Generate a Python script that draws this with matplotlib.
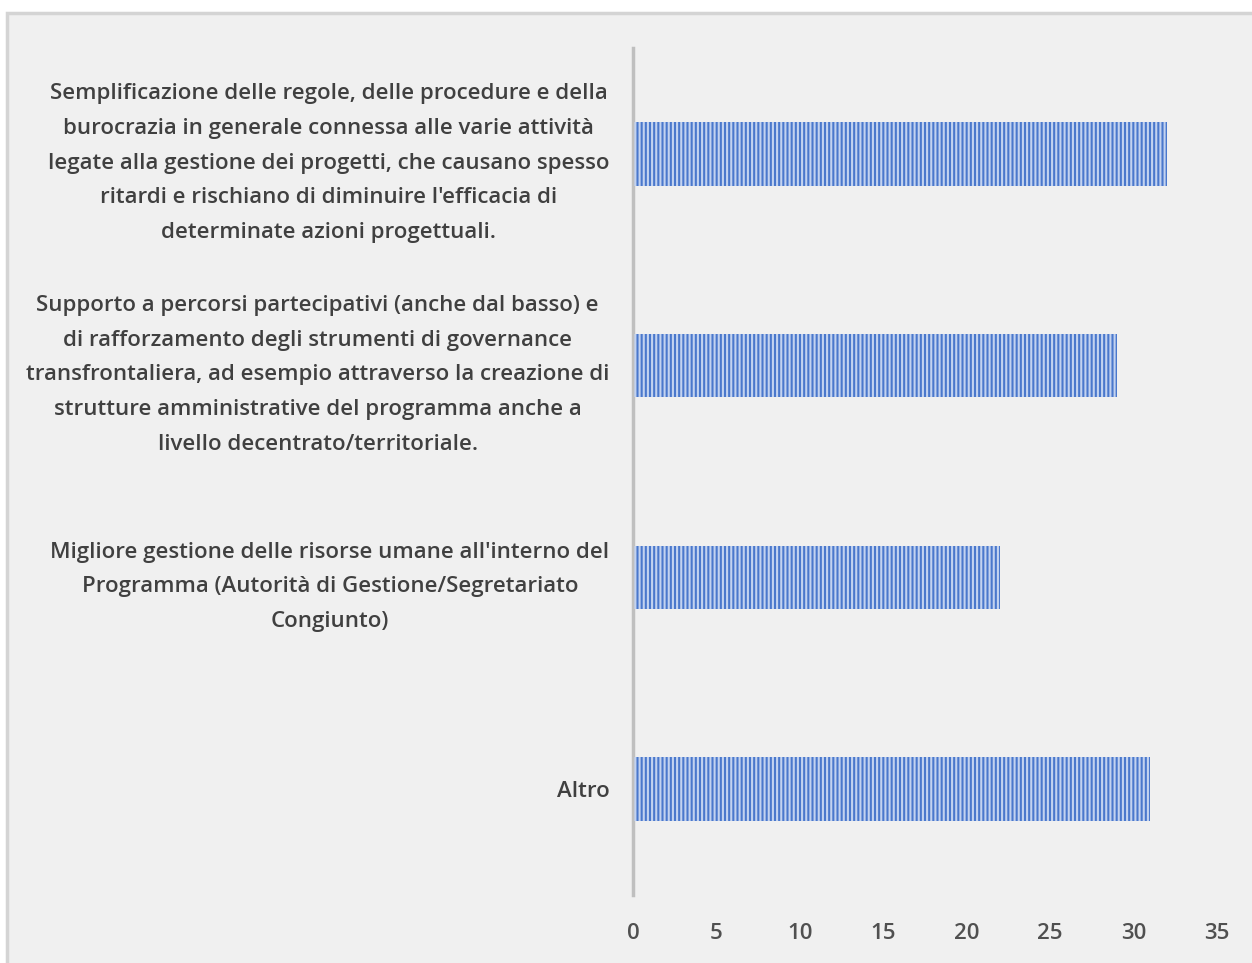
import matplotlib.pyplot as plt
from matplotlib.patches import Rectangle

# dati
categorie = [
    "Semplificazione delle regole, delle procedure e della\n"
    "burocrazia in generale connessa alle varie attività\n"
    "legate alla gestione dei progetti, che causano spesso\n"
    "ritardi e rischiano di diminuire l'efficacia di\n"
    "determinate azioni progettuali.",
    "Supporto a percorsi partecipativi (anche dal basso) e\n"
    "di rafforzamento degli strumenti di governance\n"
    "transfrontaliera, ad esempio attraverso la creazione di\n"
    "strutture amministrative del programma anche a\n"
    "livello decentrato/territoriale.",
    "Migliore gestione delle risorse umane all'interno del\n"
    "Programma (Autorità di Gestione/Segretariato\n"
    "Congiunto)",
    "Altro",
]
valori = [32, 29, 22, 31]
xticks = [0, 5, 10, 15, 20, 25, 30, 35]

plt.rcParams['font.family'] = ['Open Sans', 'DejaVu Sans']
plt.rcParams['hatch.linewidth'] = 1.5

fig = plt.figure(figsize=(12.52, 9.63), dpi=100, facecolor='white')
# riquadro grigio del grafico
fig.patches.append(Rectangle((7 / 1252, -0.1), 1.1, 1.1 - 13 / 963,
                             transform=fig.transFigure, facecolor='#f0f0f0',
                             edgecolor='#d4d4d4', linewidth=2.5, zorder=-1))

ax = fig.add_axes([633 / 1252, 68 / 963, (1217 - 633) / 1252, (895 - 48) / 963])
ax.set_facecolor('none')

pos = list(range(len(categorie)))[::-1]
ax.barh(pos, valori, height=0.3, color='#4a78cc', linewidth=0, zorder=2)
ax.barh(pos, valori, height=0.3, facecolor='none', edgecolor='#c3d3f0',
        hatch='||||', linewidth=0, zorder=3)

ax.set_xlim(0, 35)
ax.set_ylim(-0.5, 3.5)
ax.set_xticks(xticks)
ax.set_yticks(pos)
ax.set_yticklabels(categorie)
for lab in ax.get_yticklabels():
    lab.set_multialignment('center')
    lab.set_linespacing(1.85)

ax.tick_params(axis='y', length=0, pad=17, labelsize=16, labelcolor='#404040')
ax.tick_params(axis='x', length=0, pad=20, labelsize=16, labelcolor='#505050')
for lab in ax.get_yticklabels():
    lab.set_fontweight('semibold')
for lab in ax.get_xticklabels():
    lab.set_fontweight('semibold')

for s in ['top', 'right', 'bottom']:
    ax.spines[s].set_visible(False)
ax.spines['left'].set_color('#bfbfbf')
ax.spines['left'].set_linewidth(2.5)

fig.savefig('out.png', dpi=100, facecolor='white')
